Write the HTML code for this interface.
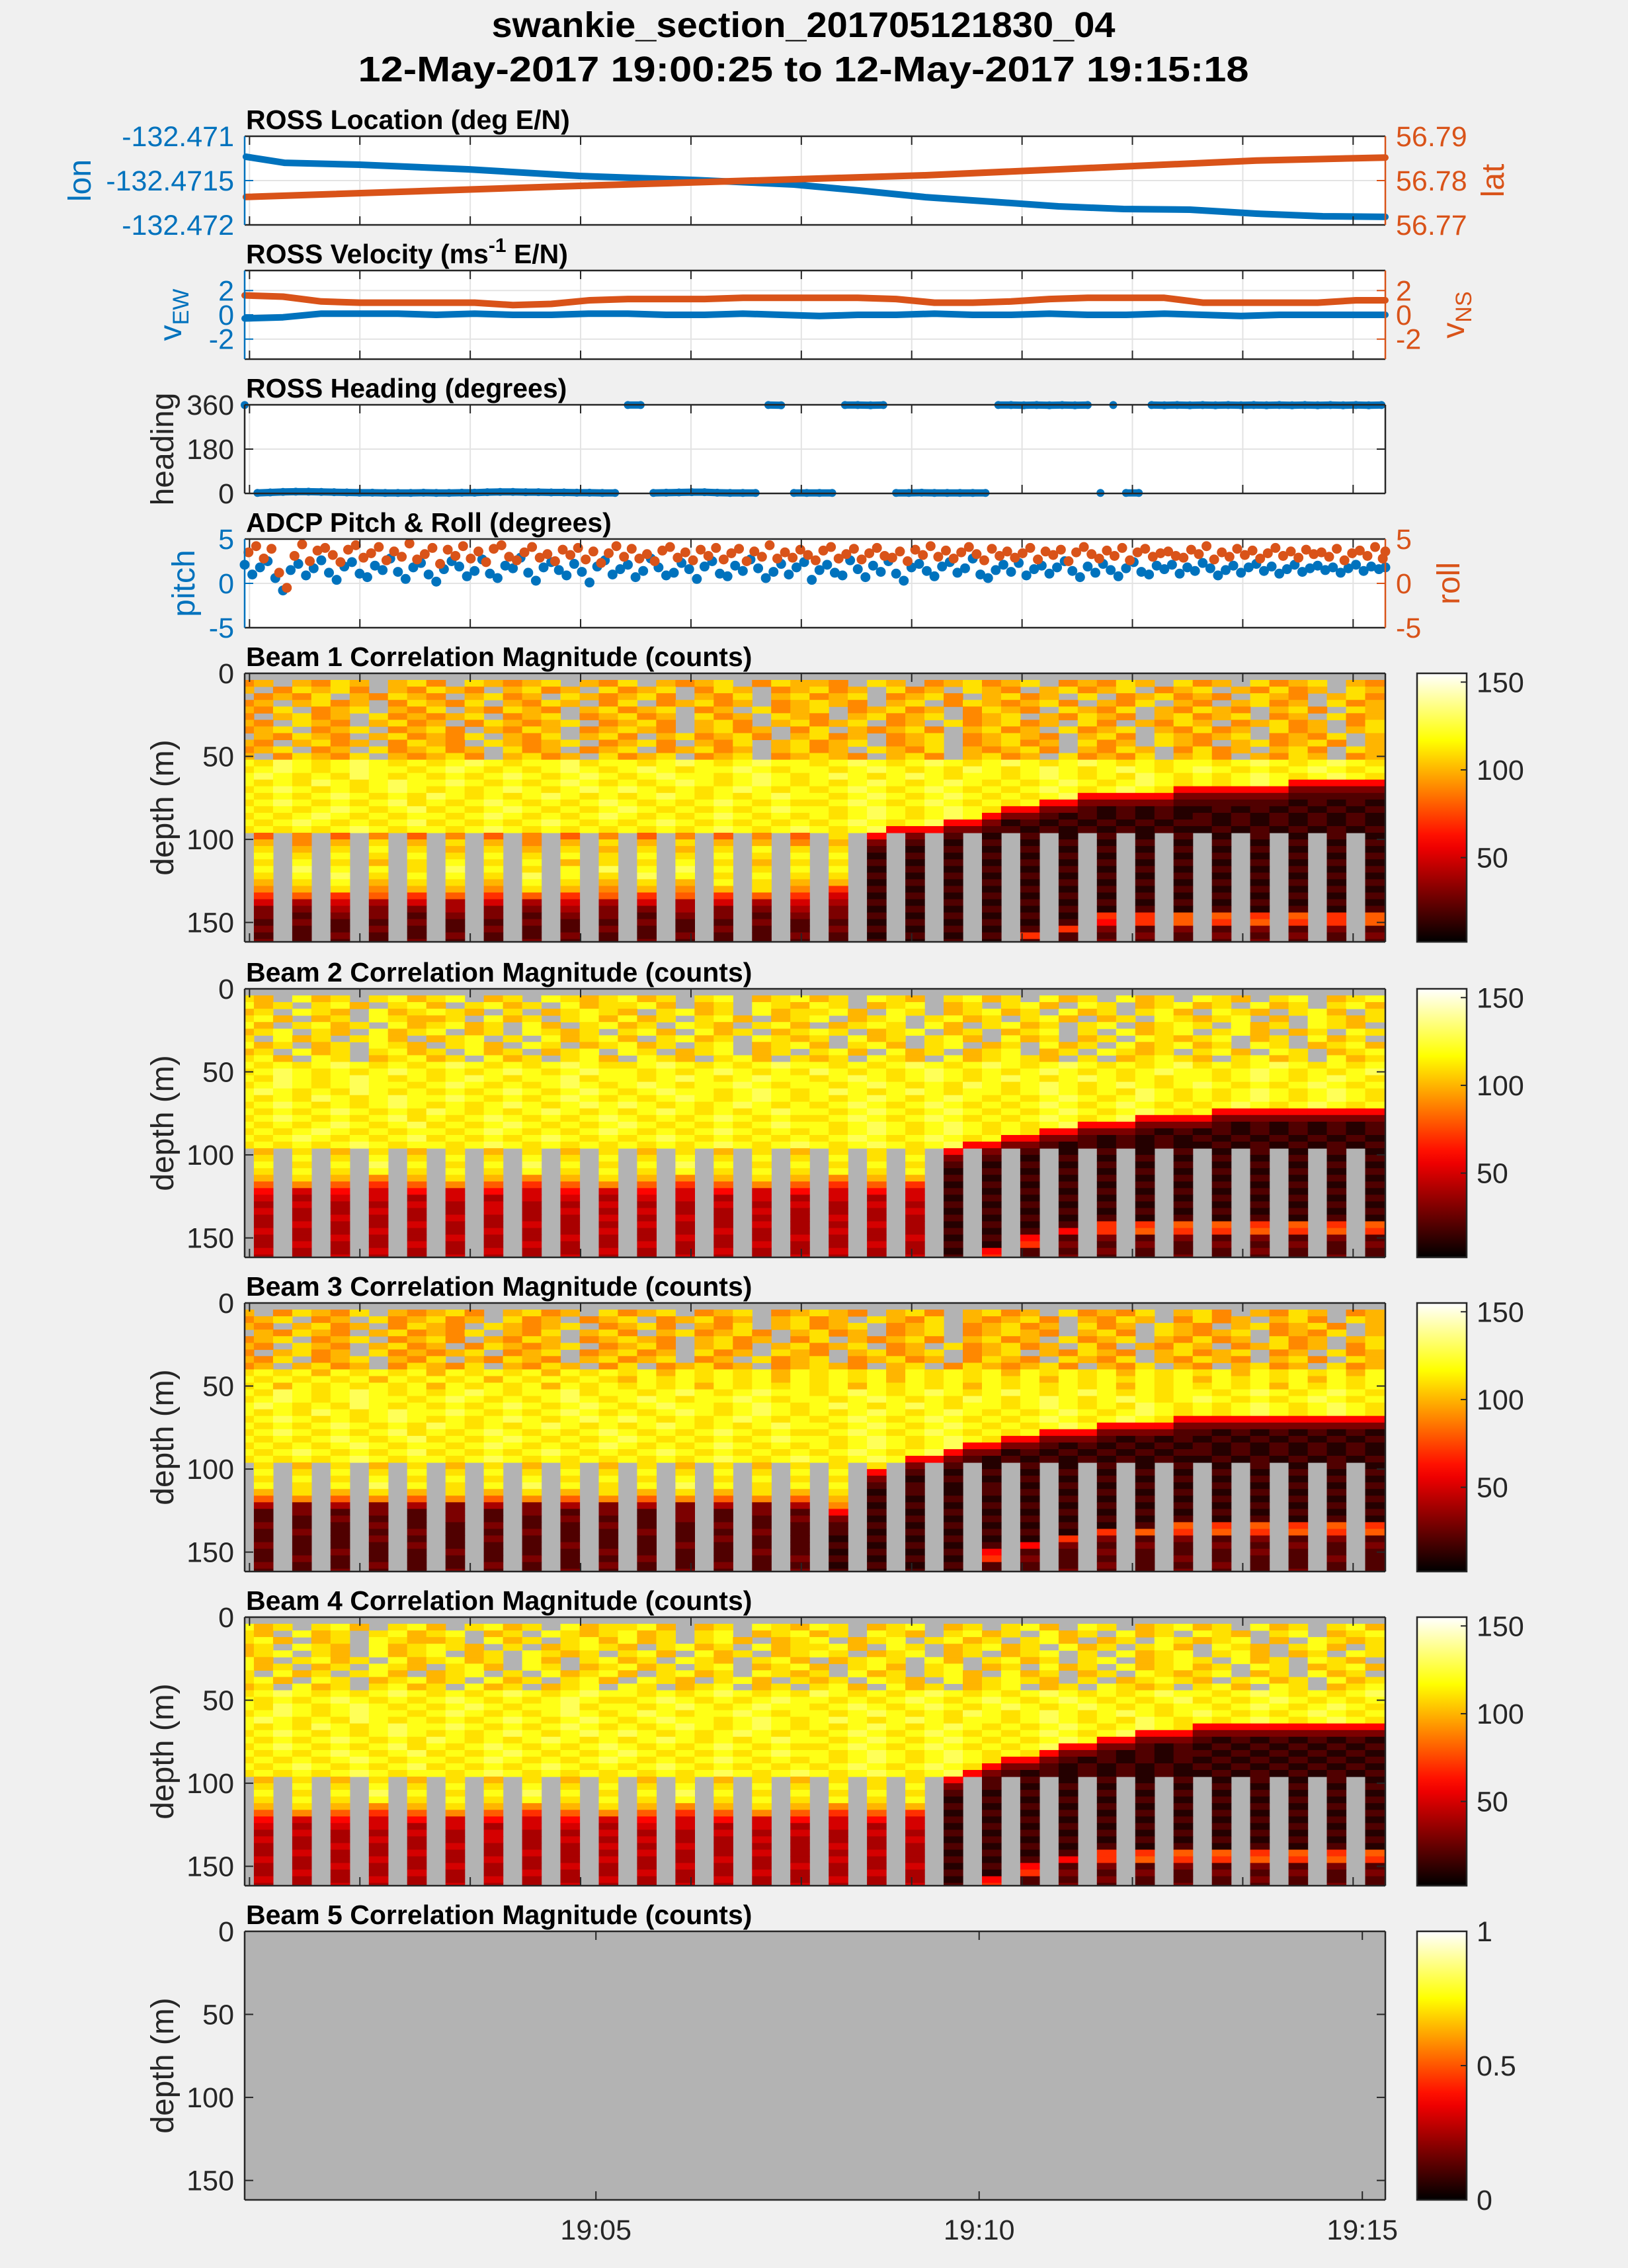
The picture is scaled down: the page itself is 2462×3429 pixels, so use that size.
<!DOCTYPE html>
<html><head><meta charset="utf-8"><title>swankie section</title>
<style>html,body{margin:0;padding:0;background:#f0f0f0;}svg{display:block;font-family:"Liberation Sans",Arial,sans-serif;}</style>
</head><body>
<svg id="fig" xmlns="http://www.w3.org/2000/svg" width="2462" height="3429" viewBox="0 0 2462 3429">
<rect x="0" y="0" width="2462" height="3429" fill="#f0f0f0"/>
<text x="1215" y="56" font-size="54" font-weight="bold" text-anchor="middle" textLength="943" lengthAdjust="spacingAndGlyphs" fill="#000">swankie_section_201705121830_04</text>
<text x="1215" y="123" font-size="54" font-weight="bold" text-anchor="middle" textLength="1347" lengthAdjust="spacingAndGlyphs" fill="#000">12-May-2017 19:00:25 to 12-May-2017 19:15:18</text>
<defs>
<linearGradient id="hotGrad" x1="0" y1="1" x2="0" y2="0"></linearGradient>
</defs>
</svg>
<script>
// ---------------- DATA ----------------
const lonT = [1,31,90,175,262,352,430,481,533,585,637,688,740,792,844,893];
const lonV = [-132.471231,-132.471299,-132.471321,-132.471373,-132.471448,-132.471493,-132.471545,-132.471612,-132.471687,-132.471739,-132.471791,-132.471821,-132.471828,-132.471873,-132.471903,-132.471910];
const latT = [1,262,533,792,893];
const latV = [56.7763,56.7788,56.7812,56.7845,56.7852];
const lonTicks = [-132.472,-132.4715,-132.471];
const lonTickLabels = ['-132.472','-132.4715','-132.471'];
const latTicks = [56.77,56.78,56.79];
const latTickLabels = ['56.77','56.78','56.79'];

const velStep = 30;
const vEW = [-0.3,-0.2,0.1,0.1,0.1,0.0,0.1,0.0,0.0,0.1,0.1,0.0,0.0,0.1,0.0,-0.1,0.0,0.0,0.1,0.0,0.0,0.1,0.0,0.0,0.1,0.0,-0.1,0.0,0.0,0.0,0.0];
const vNS = [1.6,1.5,1.1,1.0,1.0,1.0,1.0,0.8,0.9,1.2,1.3,1.3,1.3,1.4,1.4,1.4,1.4,1.3,1.0,1.0,1.1,1.3,1.4,1.4,1.4,1.0,1.0,1.0,1.0,1.2,1.2];
const velTicks = [-2,0,2];

const headStep = 10;
const heading = [359,2,4,6,7,7,6,5,4,3,
 3,2,2,2,3,2,2,3,3,5,
 6,6,5,5,4,4,3,3,2,2,
 359,359,2,3,4,5,5,3,2,2,
 2,359,358,2,2,2,2,359,359,358,
 359,2,2,3,2,2,2,2,2,359,
 359,358,359,358,359,358,359,2,359,2,
 2,359,358,359,358,359,358,359,358,359,
 358,359,358,359,358,359,358,359,358,359];
const headTicks = [0,180,360];

const prStep = 6;
const pitch = [2.1,1.0,1.8,2.5,0.6,-0.8,1.5,2.2,0.9,1.7,
 2.6,1.2,0.4,1.9,2.4,1.1,0.7,2.0,1.5,2.8,
 1.3,0.5,1.8,2.3,1.0,0.2,1.6,2.5,1.9,0.8,
 1.4,2.7,1.1,0.6,2.0,1.7,2.9,1.2,0.3,1.8,
 2.4,1.5,0.9,2.2,1.3,0.1,1.9,2.6,1.0,1.6,
 2.1,0.7,1.4,2.8,1.8,0.9,1.2,2.3,1.6,0.5,
 1.9,2.5,1.1,0.8,2.0,1.4,2.7,1.7,0.6,1.3,
 2.2,1.0,1.8,2.4,0.4,1.5,2.1,1.2,0.9,2.6,
 1.6,0.7,2.0,1.3,2.5,1.1,0.3,1.8,2.2,1.4,
 0.8,1.9,2.4,1.2,1.7,2.8,1.0,0.6,1.5,2.1,
 1.3,2.3,0.9,1.6,2.0,1.1,1.8,2.5,1.4,0.7,
 1.9,1.2,2.2,1.5,0.8,1.7,2.4,1.3,1.0,2.0,
 1.6,2.1,1.1,1.8,1.4,2.3,1.7,0.9,1.5,2.0,
 1.2,1.8,2.2,1.4,1.9,1.1,1.6,2.1,1.3,1.7,
 2.0,1.5,1.8,1.2,1.7,2.1,1.4,1.9,1.6,1.8];
const roll = [3.5,4.2,2.8,3.9,1.2,-0.5,3.1,4.4,2.5,3.7,
 4.0,3.2,2.4,3.8,4.3,2.9,3.4,4.1,2.6,3.6,
 3.0,4.5,2.7,3.3,4.0,2.2,3.8,3.1,4.2,2.8,
 3.6,2.4,3.9,4.3,3.0,2.6,3.5,4.1,2.9,3.3,
 2.5,3.8,3.2,4.0,2.7,3.6,2.3,3.4,4.2,3.0,
 3.9,2.8,3.3,2.5,3.7,4.1,2.9,3.5,2.6,3.8,
 3.1,4.0,2.7,3.4,3.9,2.5,3.6,3.0,4.3,2.8,
 3.5,2.9,3.8,3.2,2.6,3.7,4.1,2.8,3.3,3.9,
 2.7,3.4,4.0,3.1,2.9,3.6,2.5,3.8,3.2,4.2,
 3.0,3.7,2.8,3.5,4.1,3.3,2.6,3.9,3.1,3.6,
 2.9,3.4,4.0,2.7,3.6,3.2,3.8,2.5,3.5,4.1,
 3.3,2.8,3.7,3.1,4.0,2.6,3.5,3.9,3.0,3.4,
 3.6,3.1,2.9,3.8,3.3,4.2,2.7,3.5,3.0,3.9,
 3.2,3.7,2.8,3.4,4.0,3.1,3.6,2.9,3.8,3.3,
 3.5,3.0,3.9,2.6,3.4,3.7,3.1,4.1,2.8,3.6];
const prTicks = [-5,0,5];

const xTickT = [3.8,90.2,176.6,263,349.4,435.8,522.2,608.6,695,781.4,867.8];
const timeLabelT = [275,575,875];
const timeLabels = ['19:05','19:10','19:15'];
const depthTicks = [0,50,100,150];
const cbTicks = [50,100,150];
const cb5Ticks = [0,0.5,1];
const cb5Labels = ['0','0.5','1'];

const ensStart = -7.8, ensDur = 15, binSize = 4;
const beam1Rows = [
".......... .......... .......... .......... .......... ..........",
"9a.a9ba.ab 9.ba9ab.a9 b.a9ab.9ba a9.ba.9ab9 ab.9a9ba.b 9a.b9ab.a9",
"a.9bab9.a9 ba9.ab9a.b 9ab.9ba.9a b9a.b9a.ba 9.ab9ab.9a b.a9b9a.ba",
".9a9b.a9ba 9.ab9a.ba9 ab9.a9b.ab 9ab.9ab9.a b9a.b.9ab9 a9.ba9.ab9",
"9a.ab9a.9b a9b.a9ba.9 b.9ab9a.9a ba9.ab.9ba 9ab9.a9b.a 9.ab9a.b9a",
"a9b.9ab.a9 b.a9ba9.ab 9ab.9a.b9a b.9ab9a.9b a9.ba9b.a9 ba9.ab9.ba",
"9.ab9a.b9a 9ab.9ab.9a b9a.b9a.ba 9.ab9ab.9a b.a9ba9.ab 9ab.9a.b9a",
"a9.ba9.ab9 a.9ba9ab.9 ab9.ab9.ab 9ab.9a.b9a b9a.b9.a9b a.9ab9a.9b",
"9ab.9ab.9a b9.a9ba.9a ba9.ab9a.9 b.a9ab9.ab 9a.b9ab.a9 b9a.b9a.ab",
".a9ba9.ab9 a9b.a9b.ab 9.ab9ab9.a b9a.9ab.9a ba9.ab9.ba 9ab.9a9b.a",
"a9.ab9a.9b a9.ba9ab.9 ab9.a9b.ab 9ab.9ab.9a b9a.b9a.ba 9.ab9ab9.a",
"9ab.9a.b9a b9a.b9a.9a b.9ab9a.ab 9a.ba9b.a9 ab9.a9ba.9 b9a.ab9.ba",
"a.9ba9b.a9 ab9.ab9a.b 9ab.9ab.9a ba9.ab9.ab 9a.b9a9b.a b9.a9ba.9a",
"cbdcbcdcbc bcdcbccdbc cbcdcbcdcc bcdcbcdcbc dcbcdcbcbc cbcdcbcdcb",
"bcdcbcdccb cdcbcbcdcb cdcbccdcbc cbcdcbcbdc bcdcbcdcbc dcbcbcdcbc",
"cdcbcbdcbc bcbcdcbcdc bcdccbcdcb cdcbcdcbcc bcdcbcbdcb cbcdcbcdcb",
"cbcbdcbcdc cdcbcbcdcb cbcdcbcdcb cbcdcbcdcb cbcdcbcdcb cbcdc66666",
"bcdcbcbcdc bcbcdcbcdc dcbcbcdcbc bcdcbcdcbc bcdcbcdcb6 6666633333",
"cbcbcdcbcb dcbcbcdcbc bcdcbcbcdc cbcdcbcdcb cbcd666663 3333322222",
"bcdcbcbcdb cbcdcbcbcd cbcbcdcbcb bcdcbcdcbc bc66333332 2222212121",
"cbcbcdcbcd bcbcdcbcbc dcbcbcbcdc cbcdcbcdcb 6633212121 1212121212",
"bcbcdcbcbc cbcdcbcbcd cbcbcdcbcb cbcdcbcdc6 3321212121 2121212121",
"cbcdcbcbcd bcbcbcdcbc bcdcbcbcbc bcdcbcd663 1212121212 2121212121",
"bcbcbcdcbc cbcdcbcbcb cbcbcdcbcd cbcd666332 2121212121 1212121212",
".8.9.8.9.8 .9.8.9.8.9 .8.9.8.9.8 .b.6.3.2.1 .2.1.2.1.2 .1.2.1.2.1",
".a.9.a.b.a .b.a.9.a.b .a.b.a.a.9 .a.3.2.1.2 .1.2.1.2.1 .2.1.2.1.2",
".b.a.b.c.b .a.b.a.b.a .b.a.b.c.b .b.2.1.2.1 .2.1.2.1.2 .1.2.1.2.1",
".c.b.c.b.c .b.c.b.c.b .c.b.c.b.c .c.1.2.1.2 .1.2.1.2.1 .2.1.2.1.2",
".b.c.b.a.b .c.b.c.a.b .b.c.b.a.b .b.2.1.2.1 .2.1.2.1.2 .1.2.1.2.1",
".c.d.c.c.b .d.c.b.c.d .c.d.c.b.c .c.1.2.1.2 .1.2.1.2.1 .2.1.2.1.2",
".b.c.d.b.c .c.b.d.c.b .d.c.b.c.b .b.2.1.2.1 .2.1.2.1.2 .1.2.1.2.1",
".a.b.c.a.b .b.a.c.b.a .b.a.c.b.a .a.1.2.1.2 .1.2.1.2.1 .2.1.2.1.2",
".9.a.b.9.a .a.9.b.a.9 .a.9.a.b.9 .7.2.1.2.1 .2.1.2.1.2 .1.2.1.2.1",
".7.8.7.8.7 .8.7.8.7.8 .7.8.7.8.7 .5.1.2.1.2 .1.2.1.2.1 .2.1.2.1.2",
".5.4.5.4.5 .4.5.4.5.4 .5.4.5.4.5 .4.2.1.2.1 .2.1.2.1.2 .1.2.1.2.1",
".3.3.4.3.3 .4.3.3.4.3 .3.4.3.3.4 .3.1.2.1.2 .1.2.1.2.1 .2.1.2.1.2",
".3.2.3.3.2 .3.3.2.3.3 .2.3.3.2.3 .3.2.1.2.1 .2.1.7.7.8 .8.7.8.7.8",
".2.3.2.2.3 .2.2.3.2.2 .3.2.2.3.2 .2.1.2.1.2 .1.2.6.7.8 .7.8.7.7.8",
".3.2.2.3.2 .2.3.2.2.3 .2.2.3.2.2 .3.2.1.2.1 .2.7.3.2.3 .2.3.2.3.2",
".2.2.3.2.2 .3.2.2.3.2 .2.3.2.2.3 .2.1.2.1.2 .7.2.2.3.2 .3.2.3.2.3",
".3.2.2.2.3 .2.2.3.2.2 .3.2.2.2.2 .2.2.1.2.1 .2.2.3.2.2 .2.3.2.2.2"];
const beam2Rows = [
".......... .......... .......... .......... .......... ..........",
"ba.cab.bca bc.ab.cbab cab.bc.abc ab.cba.bca b.cab.cab. cba.bc.abc",
"cab.bca.bc a.bcab.cab bca.ab.cba cb.abc.ab. bca.cb.abc ab.cab.bca",
"ab.cba.cab cba.b.abcb a.bcab.cab bca.cb.abc ab.cab.bca .cba.bca.b",
"bca.ab.cba ab.cab.bca cab.bca.ab c.abc.bcab .bca.ab.cb abc.a.cbab",
"ca.bcab.ca bcab.ca.bc ab.cba.bca .abcb.ca.b cab.bc.abc b.cab.cba.",
"abc.ba.cab c.ab.cbab. bca.cab.ab cb.abc.ab. abc.b.cabc .bca.ab.cb",
"b.cab.bca. abc.b.cabc a.bcab.cba b.cab.bca. cab.ab.cba bc.ab.cab.",
"cab.ab.cba .bca.cb.ab cab.bc.abc a.bca.bc.a b.cab.cabc ab.cb.abca",
"ab.cab.bca b.cab.abc. cb.abc.ab. bca.cab.ab c.ab.cbab. bca.cb.abc",
"bca.cb.abc ab.cab.bca .cba.bca.b ab.cba.cab cba.b.abcb a.bcab.cab",
"cbcbcdcbcb cdcbcbcdcb bcdcbcbcdc cbcbcdcbcd cbcdcbcbcd bcbcdcbcbc",
"bcdcbcbcdc bcbcdcbcdc cbcbcdcbcb dcbcbcdcbc bcdcbcbcdc cbcdcbcbcd",
"cbdcbcdcbc bcdcbccdbc cbcdcbcdcc bcdcbcdcbc dcbcdcbcbc cbcdcbcdcb",
"bcdcbcdccb cdcbcbcdcb cdcbccdcbc cbcdcbcbdc bcdcbcdcbc dcbcbcdcbc",
"cdcbcbdcbc bcbcdcbcdc bcdccbcdcb cdcbcdcbcc bcdcbcbdcb cbcdcbcdcb",
"cbcbdcbcdc cdcbcbcdcb cbcdcbcdcb cbcdcbcdcb cbcdcbcdcb cbcdcbcdcb",
"bcdcbcbcdc bcbcdcbcdc dcbcbcdcbc bcdcbcdcbc bcdcbcdcbc bcdcbcdcbc",
"cbcbcdcbcb dcbcbcdcbc bcdcbcbcdc cbcdcbcdcb cbcdcbcdcb c666666666",
"bcdcbcbcdb cbcdcbcbcd cbcbcdcbcb bcdcbcdcbc bcdcbcd666 6333333333",
"cbcbcdcbcd bcbcdcbcbc dcbcbcbcdc cbcdcbcdcb cbcd666333 3212121212",
"bcbcdcbcbc cbcdcbcbcd cbcbcdcbcb cbcdcbcdcb cb66333212 1212121212",
"cbcdcbcbcd bcbcbcdcbc bcdcbcbcbc bcdcbcdcbc 6633212121 2121212121",
"bcbcbcdcbc cbcdcbcbcb cbcbcdcbcd cbcdcbcd66 3321212121 1212121212",
".a.b.a.b.a .b.a.b.a.b .a.b.a.b.a .b.b.b.6.3 .2.1.2.1.2 .1.2.1.2.1",
".b.c.b.c.b .c.b.c.b.c .b.c.b.c.b .c.b.c.3.2 .1.2.1.2.1 .2.1.2.1.2",
".c.b.c.d.c .b.c.d.c.b .c.d.c.b.c .b.c.b.2.1 .2.1.2.1.2 .1.2.1.2.1",
".b.c.b.c.b .c.b.c.b.c .b.c.b.c.b .c.b.c.1.2 .1.2.1.2.1 .2.1.2.1.2",
".a.b.a.9.a .b.a.9.a.b .a.9.a.b.a .9.a.a.2.1 .2.1.2.1.2 .1.2.1.2.1",
".8.9.8.7.8 .9.8.7.8.9 .8.7.8.9.8 .7.8.7.1.2 .1.2.1.2.1 .2.1.2.1.2",
".6.5.6.5.6 .5.6.5.6.5 .6.5.6.5.6 .5.6.5.2.1 .2.1.2.1.2 .1.2.1.2.1",
".5.4.5.5.4 .5.4.5.5.4 .5.5.4.5.4 .5.4.5.1.2 .1.2.1.2.1 .2.1.2.1.2",
".4.5.4.4.5 .4.5.4.4.5 .4.4.5.4.5 .4.5.4.2.1 .2.1.2.1.2 .1.2.1.2.1",
".5.4.4.5.4 .4.5.4.5.4 .5.4.4.5.4 .4.4.5.1.2 .1.2.1.2.1 .2.1.2.1.2",
".4.4.5.4.4 .5.4.4.4.5 .4.5.4.4.4 .5.4.4.2.1 .2.1.2.1.2 .1.2.1.2.1",
".4.5.4.4.5 .4.4.5.4.4 .5.4.4.5.4 .4.5.4.1.2 .1.2.7.7.8 .8.7.8.7.8",
".5.4.4.5.4 .4.5.4.4.5 .4.4.5.4.4 .5.4.4.2.1 .2.6.7.8.7 .7.8.7.8.7",
".4.4.5.4.4 .5.4.4.5.4 .4.5.4.4.5 .4.4.5.1.2 .6.2.3.2.3 .2.3.2.3.2",
".4.5.4.4.5 .4.4.5.4.4 .5.4.4.5.4 .4.5.4.2.1 .7.3.2.3.2 .3.2.3.2.3",
".5.4.4.5.4 .4.5.4.4.5 .4.4.5.4.4 .5.4.4.1.6 .2.2.3.2.2 .2.3.2.2.2",
".4.4.5.4.4 .5.4.4.5.4 .4.5.4.4.5 .4.4.5.2.7 .2.3.2.2.3 .2.2.2.3.2"];
const beam3Rows = [
".......... .......... .......... .......... .......... ..........",
"a.9ba9b.a9 ab9.ab9a.b 9ab.9ab.9a ba9.ab9.ab 9a.b9a9b.a b9.a9ba.9a",
"9ab.9a.b9a b9a.b9a.9a b.9ab9a.ab 9a.ba9b.a9 ab9.a9ba.9 b9a.ab9.ba",
"a9.ab9a.9b a9.ba9ab.9 ab9.a9b.ab 9ab.9ab.9a b9a.b9a.ba 9.ab9ab9.a",
".a9ba9.ab9 a9b.a9b.ab 9.ab9ab9.a b9a.9ab.9a ba9.ab9.ba 9ab.9a9b.a",
"9ab.9ab.9a b9.a9ba.9a ba9.ab9a.9 b.a9ab9.ab 9a.b9ab.a9 b9a.b9a.ab",
"a9.ba9.ab9 a.9ba9ab.9 ab9.ab9.ab 9ab.9a.b9a b9a.b9.a9b a.9ab9a.9b",
"9.ab9a.b9a 9ab.9ab.9a b9a.b9a.ba 9.ab9ab.9a b.a9ba9.ab 9ab.9a.b9a",
"a9b.9ab.a9 b.a9ba9.ab 9ab.9a.b9a b.9ab9a.9b a9.ba9b.a9 ba9.ab9.ba",
"9a.ab9a.9b a9b.a9ba.9 b.9ab9a.9a ba9.ab.9ba 9ab9.a9b.a 9.ab9a.b9a",
"bcbcacbcbc acbcbcacbc bcacbcbcac bcbcacbcbc acbcbcacbc bcacbcbcac",
"cbcbcbcacb cbcacbcbcb acbcbcbcac bcbcacbcbc bcacbcbcbc acbcbcacbc",
"bcacbcbcbc acbcbcacbc bcbcacbcbc bcacbcbcac bcbcbcacbc bcbcacbcbc",
"cbdcbcdcbc bcdcbccdbc cbcdcbcdcc bcdcbcdcbc dcbcdcbcbc cbcdcbcdcb",
"bcdcbcdccb cdcbcbcdcb cdcbccdcbc cbcdcbcbdc bcdcbcdcbc dcbcbcdcbc",
"cdcbcbdcbc bcbcdcbcdc bcdccbcdcb cdcbcdcbcc bcdcbcbdcb cbcdcbcdcb",
"cbcbdcbcdc cdcbcbcdcb cbcdcbcdcb cbcdcbcdcb cbcdcbcdcb cbcdcbcdcb",
"bcdcbcbcdc bcbcdcbcdc dcbcbcdcbc bcdcbcdcbc bcdcbcdcb6 6666666666",
"cbcbcdcbcb dcbcbcdcbc bcdcbcbcdc cbcdcbcdcb cbcdc66663 3333333333",
"bcdcbcbcdb cbcdcbcbcd cbcbcdcbcb bcdcbcdcbc bc66633332 2121212121",
"cbcbcdcbcd bcbcdcbcbc dcbcbcbcdc cbcdcbcdcb 6633321212 1212121212",
"bcbcbcdcbc cbcdcbcbcd cbcbcdcbcb cbcdcbcd66 3321212121 2121212121",
"cbcdcbcbcd bcbcbcdcbc bcdcbcbcbc bcdcbcd633 1212121212 2121212121",
"bcbcbcdcbc cbcdcbcbcb cbcbcdcbcd cbcdc66321 2121212121 1212121212",
".b.a.b.a.b .a.b.a.b.a .b.a.b.a.b .b.b.3.2.1 .2.1.2.1.2 .1.2.1.2.1",
".c.b.c.b.c .b.c.b.c.b .c.b.c.b.c .c.6.2.1.2 .1.2.1.2.1 .2.1.2.1.2",
".b.c.b.c.b .c.b.c.b.c .b.c.b.c.b .b.3.1.2.1 .2.1.2.1.2 .1.2.1.2.1",
".c.b.c.d.c .b.c.d.c.b .c.d.c.b.c .c.2.2.1.2 .1.2.1.2.1 .2.1.2.1.2",
".a.b.a.b.a .b.a.b.a.b .a.b.a.b.a .b.1.2.1.2 .2.1.2.1.2 .1.2.1.2.1",
".8.9.8.9.8 .9.8.9.8.9 .8.9.8.9.8 .a.2.1.2.1 .1.2.1.2.1 .2.1.2.1.2",
".4.3.4.3.4 .3.4.3.4.3 .4.3.4.3.4 .9.1.2.1.2 .2.1.2.1.2 .1.2.1.2.1",
".2.3.2.3.2 .3.2.3.2.3 .2.3.2.3.2 .6.2.1.2.1 .1.2.1.2.1 .2.1.2.1.2",
".2.2.3.2.2 .3.2.2.3.2 .2.3.2.2.3 .3.1.2.1.2 .2.1.2.1.2 .1.2.1.2.1",
".3.2.2.3.2 .2.3.2.2.3 .2.2.3.2.2 .2.2.1.2.1 .1.2.1.2.8 .7.8.7.8.7",
".2.3.2.2.3 .2.2.3.2.2 .3.2.2.3.2 .2.1.2.1.2 .2.1.7.8.7 .8.7.8.7.8",
".2.2.2.3.2 .2.3.2.2.2 .2.2.3.2.2 .1.2.1.2.1 .1.7.3.2.3 .2.3.2.3.2",
".3.2.2.2.3 .2.2.2.3.2 .2.3.2.2.2 .2.1.2.1.2 .6.3.2.3.2 .3.2.3.2.3",
".2.2.3.2.2 .3.2.2.2.3 .2.2.2.3.2 .1.2.1.2.6 .2.2.3.2.2 .2.3.2.2.2",
".2.3.2.2.2 .2.2.3.2.2 .3.2.2.2.3 .2.1.2.1.7 .3.2.2.2.3 .2.2.2.3.2",
".3.2.2.3.2 .2.3.2.2.3 .2.2.3.2.2 .1.2.1.2.2 .2.2.3.2.2 .3.2.2.2.2",
".2.2.3.2.2 .3.2.2.3.2 .2.3.2.2.3 .2.1.2.1.2 .2.3.2.2.3 .2.2.3.2.2"];
const beam4Rows = [
".......... .......... .......... .......... .......... ..........",
"cab.bca.bc a.bcab.cab bca.ab.cba cb.abc.ab. bca.cb.abc ab.cab.bca",
"ba.cab.bca bc.ab.cbab cab.bc.abc ab.cba.bca b.cab.cab. cba.bc.abc",
"bca.ab.cba ab.cab.bca cab.bca.ab c.abc.bcab .bca.ab.cb abc.a.cbab",
"ab.cba.cab cba.b.abcb a.bcab.cab bca.cb.abc ab.cab.bca .cba.bca.b",
"abc.ba.cab c.ab.cbab. bca.cab.ab cb.abc.ab. abc.b.cabc .bca.ab.cb",
"ca.bcab.ca bcab.ca.bc ab.cba.bca .abcb.ca.b cab.bc.abc b.cab.cba.",
"cab.ab.cba .bca.cb.ab cab.bc.abc a.bca.bc.a b.cab.cabc ab.cb.abca",
"b.cab.bca. abc.b.cabc a.bcab.cba b.cab.bca. cab.ab.cba bc.ab.cab.",
"bca.cb.abc ab.cab.bca .cba.bca.b ab.cba.cab cba.b.abcb a.bcab.cab",
"ab.cab.bca b.cab.abc. cb.abc.ab. bca.cab.ab c.ab.cbab. bca.cb.abc",
"bcdcbcbcdc bcbcdcbcdc cbcbcdcbcb dcbcbcdcbc bcdcbcbcdc cbcdcbcbcd",
"cbcbcdcbcb cdcbcbcdcb bcdcbcbcdc cbcbcdcbcd cbcdcbcbcd bcbcdcbcbc",
"cbdcbcdcbc bcdcbccdbc cbcdcbcdcc bcdcbcdcbc dcbcdcbcbc cbcdcbcdcb",
"bcdcbcdccb cdcbcbcdcb cdcbccdcbc cbcdcbcbdc bcdcbcdcbc dcbcbcdcbc",
"cdcbcbdcbc bcbcdcbcdc bcdccbcdcb cdcbcdcbcc bcdcbcbdcb cbcdcbcdcb",
"cbcbdcbcdc cdcbcbcdcb cbcdcbcdcb cbcdcbcdcb cbcdcbcdcb 6666666666",
"bcdcbcbcdc bcbcdcbcdc dcbcbcdcbc bcdcbcdcbc bcdcbcd666 3333333333",
"cbcbcdcbcb dcbcbcdcbc bcdcbcbcdc cbcdcbcdcb cbcdc66333 2121212121",
"bcdcbcbcdb cbcdcbcbcd cbcbcdcbcb bcdcbcdcbc bcd6633212 1212121212",
"cbcbcdcbcd bcbcdcbcbc dcbcbcbcdc cbcdcbcdcb cb63321212 2121212121",
"bcbcbcdcbc cbcdcbcbcd cbcbcdcbcb cbcdcbcdcb 6632121212 1212121212",
"cbcdcbcbcd bcbcbcdcbc bcdcbcbcbc bcdcbcdcb6 3321212121 2121212121",
"bcbcbcdcbc cbcdcbcbcb cbcbcdcbcd cbcdcbcd63 2121212121 1212121212",
".a.b.a.b.a .b.a.b.a.b .a.b.a.b.a .b.b.b.6.2 .2.1.2.1.2 .1.2.1.2.1",
".b.c.b.c.b .c.b.c.b.c .b.c.b.c.b .c.b.c.3.2 .1.2.1.2.1 .2.1.2.1.2",
".c.b.c.d.c .b.c.d.c.b .c.d.c.b.c .b.c.b.2.1 .2.1.2.1.2 .1.2.1.2.1",
".b.c.b.c.b .c.b.c.b.c .b.c.b.c.b .c.b.c.1.2 .1.2.1.2.1 .2.1.2.1.2",
".a.b.a.9.a .b.a.9.a.b .a.9.a.b.a .9.a.a.2.1 .2.1.2.1.2 .1.2.1.2.1",
".8.9.8.7.8 .9.8.7.8.9 .8.7.8.9.8 .7.8.7.1.2 .1.2.1.2.1 .2.1.2.1.2",
".6.5.6.5.6 .5.6.5.6.5 .6.5.6.5.6 .5.6.5.2.1 .2.1.2.1.2 .1.2.1.2.1",
".5.4.5.5.4 .5.4.5.5.4 .5.5.4.5.4 .5.4.5.1.2 .1.2.1.2.1 .2.1.2.1.2",
".4.5.4.4.5 .4.5.4.4.5 .4.4.5.4.5 .4.5.4.2.1 .2.1.2.1.2 .1.2.1.2.1",
".5.4.4.5.4 .4.5.4.5.4 .5.4.4.5.4 .4.4.5.1.2 .1.2.1.2.1 .2.1.2.1.2",
".4.4.5.4.4 .5.4.4.4.5 .4.5.4.4.4 .5.4.4.2.1 .2.1.2.1.2 .1.2.1.2.1",
".4.5.4.4.5 .4.4.5.4.4 .5.4.4.5.4 .4.5.4.1.2 .1.2.7.7.8 .8.7.8.7.8",
".5.4.4.5.4 .4.5.4.4.5 .4.4.5.4.4 .5.4.4.2.1 .2.6.7.8.7 .7.8.7.8.7",
".4.4.5.4.4 .5.4.4.5.4 .4.5.4.4.5 .4.4.5.1.2 .6.2.3.2.3 .2.3.2.3.2",
".4.5.4.4.5 .4.4.5.4.4 .5.4.4.5.4 .4.5.4.2.1 .7.3.2.3.2 .3.2.3.2.3",
".5.4.4.5.4 .4.5.4.4.5 .4.4.5.4.4 .5.4.4.1.6 .2.2.3.2.2 .2.3.2.2.2",
".4.4.5.4.4 .5.4.4.5.4 .4.5.4.4.5 .4.4.5.2.7 .2.3.2.2.3 .2.2.2.3.2"];

// ---------------- RENDER ----------------
const NS = 'http://www.w3.org/2000/svg';
const svg = document.getElementById('fig');
const BLUE = '#0072BD', ORANGE = '#D95319', DARK = '#262626', GRID = '#e3e3e3', NAN = '#b3b3b3';
const AX_L = 370, AX_R = 2095, T_END = 893;
const PANEL_TOPS = [206, 409, 612, 815], PH = 134;
const BEAM_TOPS = [1018, 1495, 1970, 2445, 2920], BH = 406, DMAX = 161.7;
const CB_L = 2143, CB_R = 2218, CLIM = [2, 155];
const NCOL = 60;
const TICK_FS = 43, LABEL_FS = 48, TITLE_FS = 41;

function mk(tag, attrs, parent) {
  const e = document.createElementNS(NS, tag);
  for (const k in attrs) e.setAttribute(k, attrs[k]);
  (parent || svg).appendChild(e);
  return e;
}
function xS(t) { return AX_L + t / T_END * (AX_R - AX_L); }
function lin(v, lo, hi, top, h) { return top + h - (v - lo) / (hi - lo) * h; }
function hot(v, lo, hi) {
  let t = (v - lo) / (hi - lo); t = Math.max(0, Math.min(1, t));
  const r = Math.min(1, t / 0.375), g = Math.max(0, Math.min(1, (t - 0.375) / 0.375)), b = Math.max(0, Math.min(1, (t - 0.75) / 0.25));
  return 'rgb(' + Math.round(r * 255) + ',' + Math.round(g * 255) + ',' + Math.round(b * 255) + ')';
}
function txt(x, y, s, size, fill, anchor, parent) {
  const e = mk('text', {x: x, y: y, 'font-size': size, fill: fill || DARK, 'text-anchor': anchor || 'start'}, parent);
  e.textContent = s;
  return e;
}

const grad = document.getElementById('hotGrad');
for (let i = 0; i <= 20; i++) {
  const st = mk('stop', {offset: (i / 20), 'stop-color': hot(i / 20, 0, 1)}, grad);
  
  
}

function vGridAndTicks(top, h, g, withGrid) {
  xTickT.forEach(t => {
    const x = xS(t);
    if (withGrid) {
      const gl = mk('line', {x1: x, x2: x, y1: top, y2: top + h, stroke: GRID, 'stroke-width': 2}, g);
      
      
    }
  });
}
function xTickMarks(top, h, g, times) {
  times.forEach(t => {
    const x = xS(t);
    const a = mk('line', {x1: x, x2: x, y1: top + h, y2: top + h - 13, stroke: DARK, 'stroke-width': 2}, g);
    
    
    const b = mk('line', {x1: x, x2: x, y1: top, y2: top + 13, stroke: DARK, 'stroke-width': 2}, g);
    
    
  });
}
function yAxisTicks(side, ticks, labels, lo, hi, top, h, color, g, grid) {
  ticks.forEach((v, i) => {
    const y = lin(v, lo, hi, top, h);
    if (grid) {
      const gl = mk('line', {x1: AX_L, x2: AX_R, y1: y, y2: y, stroke: GRID, 'stroke-width': 2}, g);
      
      
    }
    const x0 = side === 'left' ? AX_L : AX_R;
    const tk = mk('line', {x1: x0, x2: side === 'left' ? x0 + 13 : x0 - 13, y1: y, y2: y, stroke: color, 'stroke-width': 2}, g);
    
    
    if (labels) {
      const lb = txt(side === 'left' ? AX_L - 16 : AX_R + 16, y + 15, labels[i], TICK_FS, color, side === 'left' ? 'end' : 'start', g);
      
      
    }
  });
}
function box(top, h, leftColor, rightColor, g) {
  const tb = mk('line', {x1: AX_L, x2: AX_R, y1: top, y2: top, stroke: DARK, 'stroke-width': 2.5}, g);
  
  
  const bb = mk('line', {x1: AX_L, x2: AX_R, y1: top + h, y2: top + h, stroke: DARK, 'stroke-width': 2.5}, g);
  
  
  const lb = mk('line', {x1: AX_L, x2: AX_L, y1: top, y2: top + h, stroke: leftColor, 'stroke-width': 2.5}, g);
  
  
  const rb = mk('line', {x1: AX_R, x2: AX_R, y1: top, y2: top + h, stroke: rightColor, 'stroke-width': 2.5}, g);
  
  
}
function yLabel(x, yc, parts, color, g, name) {
  const e = mk('text', {x: x, y: yc, 'font-size': LABEL_FS, fill: color, 'text-anchor': 'middle', transform: 'rotate(-90 ' + x + ' ' + yc + ')'}, g);
  
  
  parts.forEach(p => {
    const ts = mk('tspan', p.sub ? {'font-size': 34, dy: 11} : {}, e);
    
    
    ts.textContent = p.t;
  });
  return e;
}
function panelTitle(top, parts, g, name) {
  const e = mk('text', {x: AX_L + 2, y: top - 11, 'font-size': TITLE_FS, 'font-weight': 'bold', fill: '#000'}, g);
  
  
  parts.forEach(p => {
    const ts = mk('tspan', p.sup ? {'font-size': 30, dy: -17} : (p.after ? {dy: 17} : {}), e);
    
    
    ts.textContent = p.t;
  });
}
function polyline(ts, vs, lo, hi, top, color, g, name, width) {
  const pts = ts.map((t, i) => xS(t).toFixed(1) + ',' + lin(vs[i], lo, hi, top, PH).toFixed(1)).join(' ');
  const pl = mk('polyline', {points: pts, fill: 'none', stroke: color, 'stroke-width': width || 10, 'stroke-linecap': 'round', 'stroke-linejoin': 'round'}, g);
  
  
}

(function () {
  const top = PANEL_TOPS[0];
  const g = mk('g', {});
  
  
  const bg = mk('rect', {x: AX_L, y: top, width: AX_R - AX_L, height: PH, fill: '#fff'}, g);
  
  
  vGridAndTicks(top, PH, g, true);
  yAxisTicks('left', lonTicks, lonTickLabels, -132.472, -132.471, top, PH, BLUE, g, true);
  yAxisTicks('right', latTicks, latTickLabels, 56.77, 56.79, top, PH, ORANGE, g, false);
  polyline(lonT, lonV, -132.472, -132.471, top, BLUE, g, 'lon-line');
  polyline(latT, latV, 56.77, 56.79, top, ORANGE, g, 'lat-line');
  xTickMarks(top, PH, g, xTickT);
  box(top, PH, BLUE, ORANGE, g);
  panelTitle(top, [{t: 'ROSS Location (deg E/N)'}], g, 'location-title');
  yLabel(137, top + PH / 2, [{t: 'lon'}], BLUE, g, 'lon-axis-label');
  yLabel(2274, top + PH / 2, [{t: 'lat'}], ORANGE, g, 'lat-axis-label');
})();

(function () {
  const top = PANEL_TOPS[1], lo = -3.65, hi = 3.65;
  const g = mk('g', {});
  
  
  const bg = mk('rect', {x: AX_L, y: top, width: AX_R - AX_L, height: PH, fill: '#fff'}, g);
  
  
  vGridAndTicks(top, PH, g, true);
  const lbl = velTicks.map(v => String(v));
  yAxisTicks('left', velTicks, lbl, lo, hi, top, PH, BLUE, g, true);
  yAxisTicks('right', velTicks, lbl, lo, hi, top, PH, ORANGE, g, false);
  const vt = vEW.map((v, i) => Math.min(i * velStep, T_END));
  polyline(vt, vEW, lo, hi, top, BLUE, g, 'vew-line');
  polyline(vt, vNS, lo, hi, top, ORANGE, g, 'vns-line');
  xTickMarks(top, PH, g, xTickT);
  box(top, PH, BLUE, ORANGE, g);
  panelTitle(top, [{t: 'ROSS Velocity (ms'}, {t: '-1', sup: true}, {t: ' E/N)', after: true}], g, 'velocity-title');
  yLabel(274, top + PH / 2, [{t: 'v'}, {t: 'EW', sub: true}], BLUE, g, 'vew-axis-label');
  yLabel(2214, top + PH / 2, [{t: 'v'}, {t: 'NS', sub: true}], ORANGE, g, 'vns-axis-label');
})();

(function () {
  const top = PANEL_TOPS[2], lo = 0, hi = 360;
  const g = mk('g', {});
  
  
  const bg = mk('rect', {x: AX_L, y: top, width: AX_R - AX_L, height: PH, fill: '#fff'}, g);
  
  
  vGridAndTicks(top, PH, g, true);
  yAxisTicks('left', headTicks, headTicks.map(String), lo, hi, top, PH, DARK, g, true);
  yAxisTicks('right', headTicks, null, lo, hi, top, PH, DARK, g, false);
  heading.forEach((v, i) => {
    const t = Math.min(i * headStep, T_END);
    const x = xS(t), y = lin(v, lo, hi, top, PH);
    if (i > 0 && Math.abs(v - heading[i - 1]) < 30) {
      const seg = mk('line', {x1: xS((i - 1) * headStep), y1: lin(heading[i - 1], lo, hi, top, PH), x2: x, y2: y, stroke: BLUE, 'stroke-width': 11, 'stroke-linecap': 'round'}, g);
      
      
    }
    const c = mk('circle', {cx: x, cy: y, r: 6, fill: BLUE}, g);
    
    
  });
  xTickMarks(top, PH, g, xTickT);
  box(top, PH, DARK, DARK, g);
  panelTitle(top, [{t: 'ROSS Heading (degrees)'}], g, 'heading-title');
  yLabel(262, top + PH / 2, [{t: 'heading'}], DARK, g, 'heading-axis-label');
})();

(function () {
  const top = PANEL_TOPS[3], lo = -5, hi = 5;
  const g = mk('g', {});
  
  
  const bg = mk('rect', {x: AX_L, y: top, width: AX_R - AX_L, height: PH, fill: '#fff'}, g);
  
  
  vGridAndTicks(top, PH, g, true);
  const lbl = prTicks.map(String);
  yAxisTicks('left', prTicks, lbl, lo, hi, top, PH, BLUE, g, true);
  yAxisTicks('right', prTicks, lbl, lo, hi, top, PH, ORANGE, g, false);
  pitch.forEach((v, i) => {
    const c = mk('circle', {cx: xS(Math.min(i * prStep, T_END)), cy: lin(v, lo, hi, top, PH), r: 7.5, fill: BLUE}, g);
    
    
  });
  roll.forEach((v, i) => {
    const c = mk('circle', {cx: xS(Math.min(i * prStep + 3, T_END)), cy: lin(v, lo, hi, top, PH), r: 7.5, fill: ORANGE}, g);
    
    
  });
  xTickMarks(top, PH, g, xTickT);
  box(top, PH, BLUE, ORANGE, g);
  panelTitle(top, [{t: 'ADCP Pitch & Roll (degrees)'}], g, 'pitch-roll-title');
  yLabel(294, top + PH / 2, [{t: 'pitch'}], BLUE, g, 'pitch-axis-label');
  yLabel(2207, top + PH / 2, [{t: 'roll'}], ORANGE, g, 'roll-axis-label');
})();

function colorbar(top, lo, hi, ticks, labels, g, name) {
  const r = mk('rect', {x: CB_L, y: top, width: CB_R - CB_L, height: BH, fill: 'url(#hotGrad)', stroke: DARK, 'stroke-width': 2.5}, g);
  
  
  ticks.forEach((v, i) => {
    const y = top + BH - (v - lo) / (hi - lo) * BH;
    const tk = mk('line', {x1: CB_R, x2: CB_R - 9, y1: y, y2: y, stroke: DARK, 'stroke-width': 2}, g);
    
    
    const lb = txt(CB_R + 15, y + 15, labels[i], TICK_FS, DARK, 'start', g);
    
    
  });
}
function depthAxis(top, g) {
  depthTicks.forEach(d => {
    const y = top + d / DMAX * BH;
    const a = mk('line', {x1: AX_L, x2: AX_L + 13, y1: y, y2: y, stroke: DARK, 'stroke-width': 2}, g);
    
    
    const b = mk('line', {x1: AX_R, x2: AX_R - 13, y1: y, y2: y, stroke: DARK, 'stroke-width': 2}, g);
    
    
    const lb = txt(AX_L - 16, Math.max(y + 15, top + 15), String(d), TICK_FS, DARK, 'end', g);
    
    
  });
  yLabel(262, top + BH / 2, [{t: 'depth (m)'}], DARK, g, 'depth-axis-label');
}
const beams = [beam1Rows, beam2Rows, beam3Rows, beam4Rows];
beams.forEach((rows, b) => {
  const top = BEAM_TOPS[b];
  const g = mk('g', {});
  
  
  const bg = mk('rect', {x: AX_L, y: top, width: AX_R - AX_L, height: BH, fill: NAN}, g);
  
  
  rows.forEach((s, r) => {
    const str = s.replace(/ /g, '');
    const d0 = r * binSize, d1 = d0 + binSize;
    const y0 = top + d0 / DMAX * BH, y1 = Math.min(top + BH, top + d1 / DMAX * BH);
    if (y0 >= top + BH) return;
    for (let c = 0; c < NCOL; c++) {
      const ch = str[c] || str[str.length - 1];
      if (ch === '.') continue;
      const v = parseInt(ch, 16) * 10;
      const x0 = Math.max(AX_L, xS(ensStart + c * ensDur)), x1 = Math.min(AX_R, xS(ensStart + (c + 1) * ensDur));
      if (x1 <= x0) continue;
      const cell = mk('rect', {x: x0.toFixed(1), y: y0.toFixed(1), width: (x1 - x0 + 0.6).toFixed(1), height: (y1 - y0 + 0.6).toFixed(1), fill: hot(v, CLIM[0], CLIM[1])}, g);
      
      
    }
  });
  xTickMarks(top, BH, g, xTickT);
  depthAxis(top, g);
  box(top, BH, DARK, DARK, g);
  panelTitle(top, [{t: 'Beam ' + (b + 1) + ' Correlation Magnitude (counts)'}], g, 'beam' + (b + 1) + '-title');
  colorbar(top, CLIM[0], CLIM[1], cbTicks, cbTicks.map(String), g, 'beam' + (b + 1) + '-colorbar');
});

(function () {
  const top = BEAM_TOPS[4];
  const g = mk('g', {});
  
  
  const bg = mk('rect', {x: AX_L, y: top, width: AX_R - AX_L, height: BH, fill: NAN}, g);
  
  
  xTickMarks(top, BH, g, timeLabelT);
  depthAxis(top, g);
  box(top, BH, DARK, DARK, g);
  panelTitle(top, [{t: 'Beam 5 Correlation Magnitude (counts)'}], g, 'beam5-title');
  colorbar(top, 0, 1, cb5Ticks, cb5Labels, g, 'beam5-colorbar');
  timeLabelT.forEach((t, i) => {
    const lb = txt(xS(t), top + BH + 60, timeLabels[i], TICK_FS, DARK, 'middle', g);
    
    
  });
})();
</script>
</body></html>
